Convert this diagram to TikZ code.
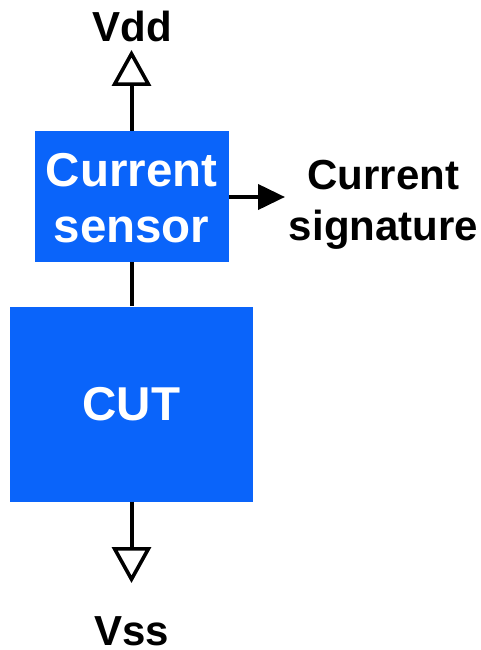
\documentclass[tikz,border=0pt]{standalone}
\usepackage{fontspec}
\setmainfont{Liberation Sans}
\usetikzlibrary{arrows.meta}
\definecolor{boxblue}{HTML}{0A64FA}
\tikzset{
  px/.style={x=1pt,y=-1pt},
  bluebox/.style={fill=boxblue,draw=none,inner sep=0pt,text=white,font=\bfseries\fontsize{47.5}{56}\selectfont,align=center},
  lab/.style={inner sep=0pt,text=black,font=\bfseries\fontsize{42}{51}\selectfont,align=center},
  wire/.style={line width=4pt,draw=black},
  open/.style={wire,-{Triangle[open,length=36pt,width=39pt,line width=3.6pt,fill=white]}},
  solid/.style={wire,-{Triangle[length=27pt,width=25pt]}}
}
\begin{document}
\begin{tikzpicture}[px]
\useasboundingbox (0,0) rectangle (481,650);
\node[bluebox,minimum width=194pt,minimum height=131pt] (sensor) at (132,196.5) {};
\node[bluebox] (sensortext) at (131.5,198) {Current\\sensor};
\node[bluebox,minimum width=243pt,minimum height=195pt] (cut) at (131.5,404) {CUT};
\node[lab] (vdd) at (132,26) {Vdd};
\node[lab] (vss) at (131.5,631.5) {Vss};
\node[lab] (sig) at (383.5,205) {Current\\signature};
\coordinate (top) at (131.5,50);
\coordinate (bot) at (131.5,583);
\coordinate (right) at (285,197);
\draw[open] (sensor.north -| top) -- (top);
\draw[open] (cut.south) -- (bot);
\draw[wire] (sensor.south -| top) -- (cut.north);
\draw[solid] (sensor.east |- right) -- (right);
\end{tikzpicture}
\end{document}
